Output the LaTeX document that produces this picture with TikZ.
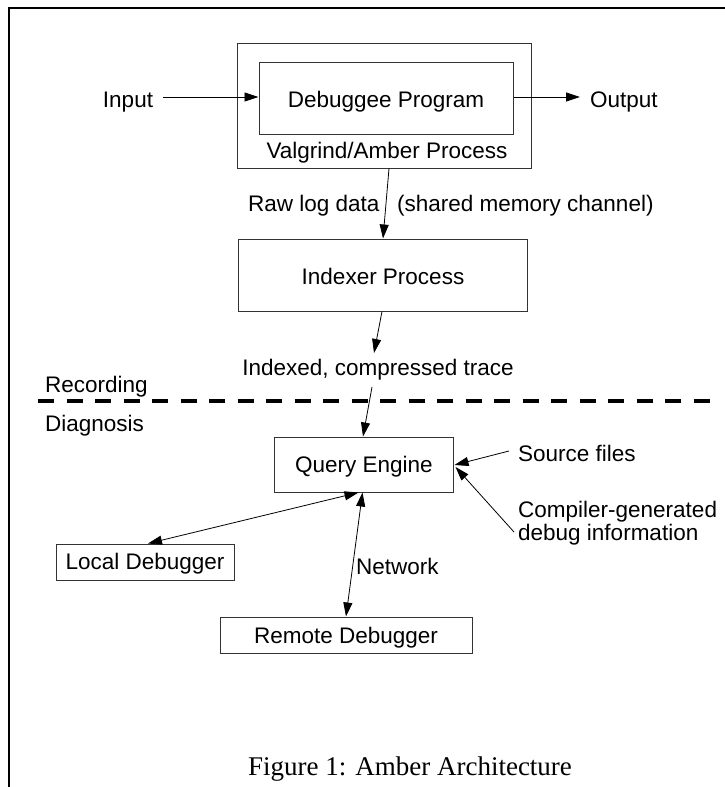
\documentclass[tikz,border=0pt]{standalone}
\usepackage{fontspec}
\setmainfont{Liberation Sans}
\newfontfamily\capfont{Liberation Serif}
\usetikzlibrary{arrows.meta,calc}
\begin{document}
\begin{tikzpicture}[x=1pt,y=-1pt,
  box/.style={draw=black!80, line width=1pt, inner sep=0pt},
  lbl/.style={inner sep=0pt, font=\fontsize{22.5}{25}\selectfont},
  arr/.style={line width=0.8pt, -{Triangle[length=14pt,width=9pt]}},
  darr/.style={line width=0.8pt, {Triangle[length=14pt,width=9pt]}-{Triangle[length=14pt,width=9pt]}},
  frame/.style={line width=1.2pt},
  sep/.style={line width=4pt, dash pattern=on 16pt off 12.5pt}]
\useasboundingbox (0,0) rectangle (725,787);
% frame
\coordinate (f1) at (9,787);
\coordinate (f2) at (9,8);
\coordinate (f3) at (725,8);
\draw[frame] (f1) -- (f2) -- (f3);
% boxes
\node[box, minimum width=294pt, minimum height=125pt] (vproc) at (384,105.5) {};
\node[box, minimum width=254pt, minimum height=72pt] (deb) at (386,98) {};
\node[box, minimum width=289pt, minimum height=72pt] (idx) at (382.5,275) {};
\node[box, minimum width=179pt, minimum height=55pt] (qe) at (363.5,464.5) {};
\node[box, minimum width=178pt, minimum height=36pt] (loc) at (145,562) {};
\node[box, minimum width=252pt, minimum height=36pt] (rem) at (346,635) {};
% texts
\node[lbl, anchor=base] (debt) at (386,107) {Debuggee Program};
\node[lbl, anchor=base] (vpt) at (387,158) {Valgrind/Amber Process};
\node[lbl, anchor=base] (inp) at (128,107) {Input};
\node[lbl, anchor=base west] (outp) at (590,107) {Output};
\node[lbl, anchor=base west] (raw) at (248,211) {Raw log data};
\node[lbl, anchor=base west] (shm) at (397,211) {(shared memory channel)};
\node[lbl, anchor=base] (idxt) at (383,284) {Indexer Process};
\node[lbl, anchor=base] (trace) at (378,375) {Indexed, compressed trace};
\node[lbl, anchor=base west] (rec) at (45,392) {Recording};
\node[lbl, anchor=base west] (diag) at (45,431) {Diagnosis};
\node[lbl, anchor=base] (qet) at (364,472) {Query Engine};
\node[lbl, anchor=base west] (src) at (518,461) {Source files};
\node[lbl, anchor=base west] (comp1) at (518,517) {Compiler-generated};
\node[lbl, anchor=base west] (comp2) at (518,540) {debug information};
\node[lbl, anchor=base] (loct) at (145,569) {Local Debugger};
\node[lbl, anchor=base] (remt) at (346,643) {Remote Debugger};
\node[lbl, anchor=base west] (net) at (356,574) {Network};
\node[inner sep=0pt, anchor=base, font=\capfont\fontsize{27}{30}\selectfont] (cap) at (410,775) {Figure 1: Amber Architecture};
% separator
\coordinate (s1) at (38,401);
\coordinate (s2) at (720,401);
\draw[sep] (s1) -- (s2);
% connectors
\coordinate (inA) at (163,97);
\coordinate (outB) at (580,97);
\draw[arr] (inA) -- (inA -| deb.west);
\draw[arr] (outB -| deb.east) -- (outB);
\draw[arr] ($(vproc.south)+(5,0)$) -- ($(idx.north)+(0.5,0)$);
\coordinate (t1) at (374,353);
\draw[arr] ($(idx.south)+(-0.5,0)$) -- (t1);
\coordinate (t2) at (372,387);
\draw[arr] (t2) -- ($(qe.north)+(-0.5,0)$);
\coordinate (sA) at (509,451);
\draw[arr] (sA) -- ($(qe.east)+(1,0.5)$);
\coordinate (cA) at (514,532);
\draw[arr] (cA) -- ($(qe.east)+(2,2.5)$);
\draw[darr] ($(qe.south)+(-5,0)$) -- ($(loc.north)+(3,0)$);
\draw[darr] ($(qe.south)+(-1,0)$) -- (rem.north);
\end{tikzpicture}
\end{document}
